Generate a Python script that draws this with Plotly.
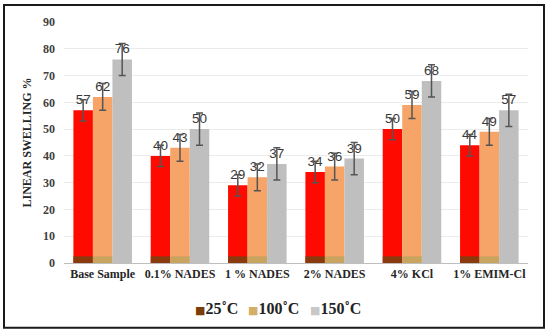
import plotly.graph_objects as go

categories = ["Base Sample", "0.1% NADES", "1 % NADES", "2% NADES", "4% KCl", "1% EMIM-Cl"]
series_names = ["25˚C", "100˚C", "150˚C"]
swell_25 = [57, 40, 29, 34, 50, 44]
swell_100 = [62, 43, 32, 36, 59, 49]
swell_150 = [76, 50, 37, 39, 68, 57]
err_25 = [4, 4, 4, 4, 4, 4]
err_100 = [5, 5, 5, 5, 5, 5]
err_150 = [6, 6, 6, 6, 6, 6]
y_ticks = [0, 10, 20, 30, 40, 50, 60, 70, 80, 90]

bar_colors = ["#FF0A00", "#F7A468", "#BFBFBF"]
band_colors = ["#8A3A0C", "#C9A45E", "#BFBFBF"]
legend_colors = ["#7A3E0A", "#D4AE66", "#C8C8C8"]
legend_widths = [8, 17, 50]
band_height = 2.5

fig = go.Figure()
values = [swell_25, swell_100, swell_150]
errs = [err_25, err_100, err_150]
for i in range(3):
    fig.add_trace(go.Bar(
        x=categories, y=values[i], name=series_names[i], offsetgroup=str(i),
        marker=dict(color=bar_colors[i], line=dict(width=0)),
        error_y=dict(type="data", array=errs[i], visible=True, color="#555555",
                     thickness=1.5, width=3.5),
        text=[str(v) for v in values[i]], textposition="outside", cliponaxis=False,
        textfont=dict(family="Liberation Sans", size=13.5, color="#3A3A3A"),
        showlegend=False,
    ))
    if i < 2:
        fig.add_trace(go.Bar(
            x=categories, y=[band_height] * len(categories), offsetgroup=str(i),
            marker=dict(color=band_colors[i], line=dict(width=0)),
            showlegend=False, hoverinfo="skip",
        ))
for i in range(3):
    label = ('<span style="font-family:DejaVu Sans;font-size:11px;color:%s">■</span>%s'
             % (legend_colors[i], series_names[i]))
    fig.add_trace(go.Scatter(
        x=[None], y=[None], mode="markers", name=label,
        marker=dict(symbol="square", size=1, color="rgba(0,0,0,0)"),
        legendwidth=legend_widths[i],
    ))

W, H = 550, 336
l, r, t, b = 64, 22, 22, 72
pw, ph = W - l - r, H - t - b

def px_x(p):
    return (p - l) / pw

def px_y(p):
    return (H - b - p) / ph

fig.update_layout(
    width=W, height=H,
    margin=dict(l=l, r=r, t=t, b=b),
    paper_bgcolor="white", plot_bgcolor="white",
    barmode="group", bargap=0.243, bargroupgap=0,
    showlegend=True,
    legend=dict(orientation="h", x=px_x(155), xanchor="left",
                y=px_y(308), yanchor="middle",
                font=dict(family="Liberation Serif", size=16, color="#222222", weight="bold"),
                itemwidth=30, bgcolor="rgba(0,0,0,0)"),
    xaxis=dict(showgrid=False, showline=True, linecolor="#BFBFBF", linewidth=1,
               tickfont=dict(family="Liberation Serif", size=12, color="#262626", weight="bold"),
               ticks="", automargin=False),
    yaxis=dict(range=[0, 90], tickvals=y_ticks, showgrid=True, gridcolor="#EBEBEB",
               gridwidth=1, zeroline=False, showline=False, ticks="",
               ticklabelstandoff=8,
               tickfont=dict(family="Liberation Serif", size=12, color="#404040", weight="bold"),
               title=dict(text="LINEAR SWELLING %", standoff=8,
                          font=dict(family="Liberation Serif", size=12, color="#262626", weight="bold")),
               automargin=False),
    shapes=[dict(type="rect", xref="paper", yref="paper",
                 x0=px_x(4), x1=px_x(544), y0=px_y(329), y1=px_y(5),
                 line=dict(color="#1A1A1A", width=2), fillcolor="rgba(0,0,0,0)")],
)

fig.write_html("out.html", config={"displayModeBar": False},
               post_script="document.body.style.margin='0';document.body.style.overflow='hidden';")
